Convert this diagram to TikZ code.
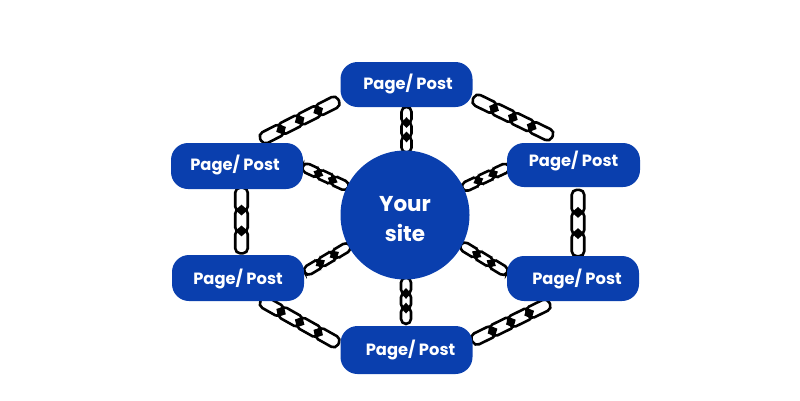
\documentclass[tikz,border=0pt]{standalone}
\usepackage{fontspec}
\setmainfont{Poppins}
\usetikzlibrary{calc,backgrounds,shapes.geometric}
\definecolor{siteblue}{HTML}{0A3FAE}
\tikzset{
  pagebox/.style={fill=siteblue,rounded corners=17pt,minimum width=132pt,minimum height=45pt,inner sep=0pt},
  boxtext/.style={text=white,font=\bfseries\fontsize{16.3}{18}\selectfont,inner sep=0pt},
  hubnode/.style={circle,fill=siteblue,minimum size=129pt,inner sep=0pt},
  hubtext/.style={text=white,align=center,inner sep=0pt,font=\bfseries\fontsize{21.5}{30}\selectfont},
  ovallink/.style={draw=black,fill=white,line width=2.6pt,rounded corners=5pt,inner sep=0pt},
  edgelink/.style={diamond,aspect=1.1,fill=black,inner sep=0pt,minimum width=11pt}
}
% #1 from, #2 to, #3 number of open links, #4 link length, #5 link breadth
\newcommand{\linkchain}[5]{%
  \foreach \i in {1,...,#3}{%
    \pgfmathsetmacro\p{(\i-0.5)/#3}
    \path (#1) -- (#2) node[sloped,pos=\p,ovallink,minimum width=#4,minimum height=#5]{};
  }
  \ifnum#3>1
  \foreach \i in {2,...,#3}{%
    \pgfmathsetmacro\p{(\i-1)/#3}
    \path (#1) -- (#2) node[sloped,pos=\p,edgelink,minimum height=#5]{};
  }
  \fi
}
\begin{document}
\begin{tikzpicture}[x=1pt,y=-1pt]
\useasboundingbox (0,0) rectangle (800,400);
\node[hubnode,label={[hubtext,yshift=-4.5pt]center:{Your\\site}}] (hub) at (405,215) {};
\node[pagebox,label={[boxtext,xshift=1.5pt,yshift=1pt]center:Page/ Post}] (top) at (406.5,84.5) {};
\node[pagebox,minimum height=46pt,label={[boxtext,xshift=-2pt,yshift=1.5pt]center:Page/ Post}] (lup) at (237,166) {};
\node[pagebox,minimum width=133pt,minimum height=44pt,label={[boxtext,xshift=0pt,yshift=4.5pt]center:Page/ Post}] (rup) at (573.5,165) {};
\node[pagebox,minimum height=46pt,label={[boxtext,xshift=0pt,yshift=-0.5pt]center:Page/ Post}] (llo) at (238,278) {};
\node[pagebox,label={[boxtext,xshift=4pt,yshift=0pt]center:Page/ Post}] (rlo) at (573,278.5) {};
\node[pagebox,minimum height=48pt,label={[boxtext,xshift=4pt,yshift=0pt]center:Page/ Post}] (bot) at (406.5,350) {};
\begin{scope}[on background layer]
\linkchain{$(top.south west)+(-3.5,-6)$}{$(lup.north)+(25.5,-4)$}{4}{25pt}{12pt}
\linkchain{$(top.south east)+(2.5,-8)$}{$(rup.north)+(-23,-7)$}{4}{25pt}{12pt}
\linkchain{$(top.south)+(0,1)$}{$(hub.north)+(1.5,1)$}{3}{17pt}{10pt}
\linkchain{$(hub.south)+(1,-1)$}{$(bot.north)+(-0.5,-3)$}{3}{17pt}{10pt}
\linkchain{$(lup.east)+(1,1)$}{hub.154}{3}{19pt}{9.5pt}
\linkchain{$(rup.west)+(1,2)$}{hub.25}{3}{19pt}{9.5pt}
\linkchain{$(llo.east)+(2,-6.5)$}{hub.209}{3}{20pt}{9.5pt}
\linkchain{$(rlo.west)+(-1,-6.5)$}{hub.332}{3}{20pt}{9.5pt}
\linkchain{$(lup.south)+(4.5,0)$}{$(llo.north)+(3.5,-3)$}{3}{24pt}{12.5pt}
\linkchain{$(rup.south)+(4.5,4)$}{$(rlo.north)+(5,-1)$}{3}{24pt}{12.5pt}
\linkchain{$(llo.south)+(24.5,0)$}{$(bot.west)+(-3.5,-7)$}{4}{25pt}{12pt}
\linkchain{$(bot.east)+(1.5,-10)$}{$(rlo.south)+(-25.5,3)$}{4}{25pt}{12pt}
\end{scope}
\end{tikzpicture}
\end{document}
